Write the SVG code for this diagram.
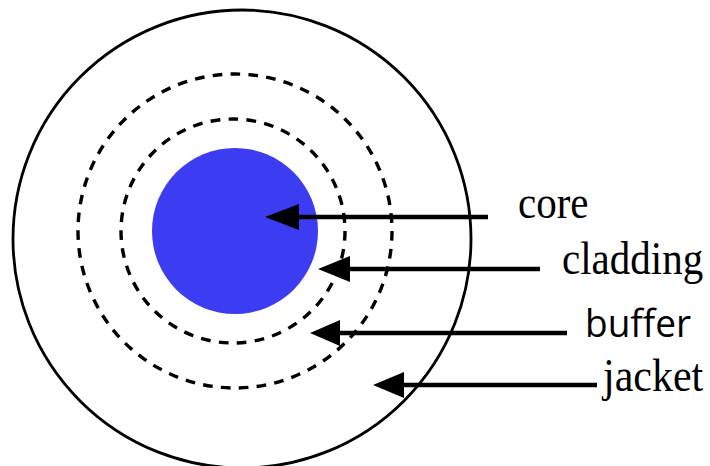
<svg xmlns="http://www.w3.org/2000/svg" width="710" height="466" viewBox="0 0 710 466">
<style>
.solid{fill:none;stroke:#000;stroke-width:2.8}
.dash{fill:none;stroke:#000;stroke-width:3.4;stroke-dasharray:5.4 4.6}
.line{stroke:#000;stroke-width:4.5;fill:none}
.head{fill:#000}
.serif{font-family:"Liberation Serif","Times New Roman",serif;font-size:41px;fill:#000}
.sans{font-family:"Open Sans","Liberation Sans",sans-serif;font-size:37px;fill:#000}
</style>
<rect width="710" height="466" fill="#fff"/>
<g id="jacket-layer"><circle class="solid" cx="242" cy="239" r="229"/></g>
<g id="buffer-layer"><circle class="dash" cx="235" cy="231" r="157" pathLength="550"/></g>
<g id="cladding-layer"><circle class="dash" cx="233" cy="231" r="112" pathLength="390"/></g>
<g id="core-layer"><circle cx="235" cy="231" r="83" fill="#3c3cf2"/></g>
<g id="connectors">
<line class="line" x1="292" y1="217" x2="488" y2="217"/>
<polygon class="head" points="265,217 299,204 299,230"/>
<line class="line" x1="345" y1="269" x2="540" y2="269"/>
<polygon class="head" points="318,269 350,256 350,282"/>
<line class="line" x1="335" y1="333" x2="567" y2="333"/>
<polygon class="head" points="310,333 340,320 340,346"/>
<line class="line" x1="400" y1="385" x2="597" y2="385"/>
<polygon class="head" points="373,385 404,372 404,398"/>
</g>
<g id="labels">
<text class="serif" transform="translate(518 218) scale(1 1.12)">core</text>
<text class="serif" transform="translate(562 274) scale(1 1.12)">cladding</text>
<text class="sans" transform="translate(585 337) scale(1 1.05)">buffer</text>
<text class="serif" style="font-size:42px" transform="translate(603 391) scale(1 1.1)">jacket</text>
</g>
</svg>
